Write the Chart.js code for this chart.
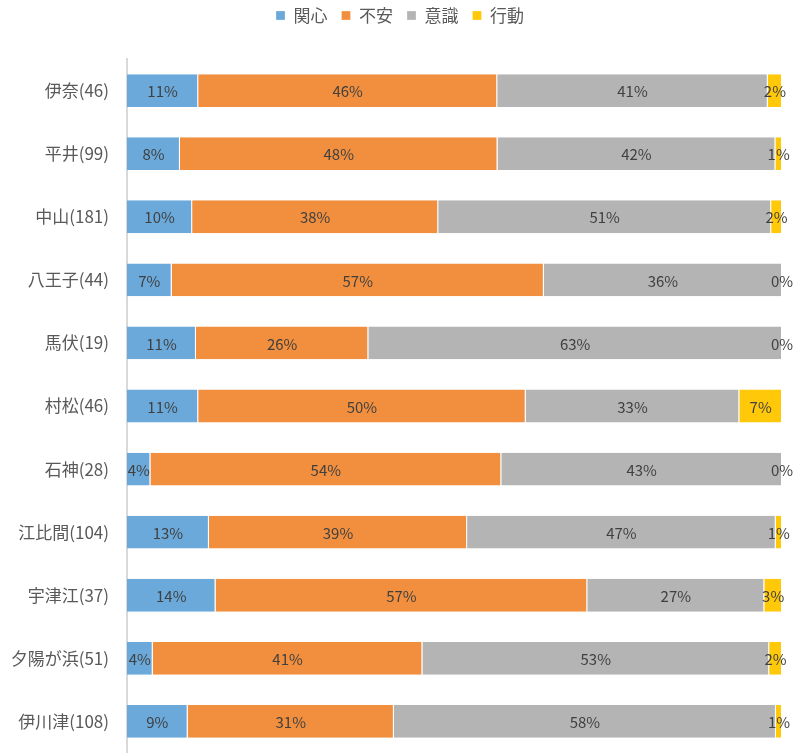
<!DOCTYPE html>
<html>
<head>
<meta charset="utf-8">
<script src="https://cdn.jsdelivr.net/npm/chart.js@4"></script>
<style>
  html, body { margin: 0; padding: 0; background: #fff; overflow: hidden; }
  canvas { display: block; }
</style>
</head>
<body>
<canvas id="chart" width="795" height="753"></canvas>
<script>
// 地区ごとの回答数（人数）
const areas = ['伊奈', '平井', '中山', '八王子', '馬伏', '村松', '石神', '江比間', '宇津江', '夕陽が浜', '伊川津'];
const sizes = [46, 99, 181, 44, 19, 46, 28, 104, 37, 51, 108];

const interest = [5, 8, 18, 3, 2, 5, 1, 13, 5, 2, 10];   // 関心
const anxiety  = [21, 48, 68, 25, 5, 23, 15, 41, 21, 21, 34]; // 不安
const aware    = [19, 42, 92, 16, 12, 15, 12, 49, 10, 27, 63]; // 意識
const action   = [1, 1, 3, 0, 0, 3, 0, 1, 1, 1, 1];       // 行動

const seriesNames = ['関心', '不安', '意識', '行動'];
const seriesCounts = [interest, anxiety, aware, action];
const colors = ['#6AA9DA', '#F18F3E', '#B4B4B4', '#FFC90A'];

const FONT = "'Noto Sans CJK JP', 'Noto Sans', sans-serif";

const labels = areas.map((a, i) => `${a}(${sizes[i]})`);

const datasets = seriesNames.map((name, s) => ({
  label: name,
  data: seriesCounts[s].map((c, i) => c / sizes[i]),
  counts: seriesCounts[s],
  backgroundColor: colors[s],
  borderColor: '#ffffff',
  borderWidth: { right: 1 },
  borderSkipped: false,
  barPercentage: 0.52,
  categoryPercentage: 1
}));

// 各区間の中央に割合を書く
const segmentLabels = {
  id: 'segmentLabels',
  afterDatasetsDraw(chart) {
    const ctx = chart.ctx;
    ctx.save();
    ctx.font = `15px ${FONT}`;
    ctx.fillStyle = '#404040';
    ctx.textAlign = 'center';
    ctx.textBaseline = 'middle';
    chart.data.datasets.forEach((ds, d) => {
      chart.getDatasetMeta(d).data.forEach((bar, i) => {
        const pct = Math.round(ds.counts[i] / sizes[i] * 100);
        ctx.fillText(pct + '%', (bar.base + bar.x) / 2, bar.y + 1);
      });
    });
    ctx.restore();
  }
};

// 凡例の高さを固定し、位置を少しずらす
const legendTweak = {
  id: 'legendTweak',
  beforeInit(chart) {
    const legend = chart.legend;
    const fit = legend.fit;
    legend.fit = function () {
      fit.call(this);
      this.height = 59;
    };
    const draw = legend.draw;
    legend.draw = function () {
      chart.ctx.save();
      chart.ctx.translate(9, -7);
      draw.call(this);
      chart.ctx.restore();
    };
  }
};

new Chart(document.getElementById('chart'), {
  type: 'bar',
  data: { labels, datasets },
  options: {
    indexAxis: 'y',
    responsive: false,
    animation: false,
    layout: { padding: { left: 0, right: 13, top: 0, bottom: 0 } },
    plugins: {
      legend: {
        position: 'top',
        labels: {
          boxWidth: 9,
          boxHeight: 9,
          padding: 14,
          color: '#595959',
          font: { family: FONT, size: 17 }
        }
      },
      tooltip: { enabled: false }
    },
    scales: {
      x: {
        stacked: true,
        display: false,
        min: 0,
        max: 1
      },
      y: {
        stacked: true,
        grid: { display: false, drawTicks: false },
        border: { display: true, color: '#D9D9D9', width: 2 },
        ticks: {
          padding: 18,
          color: '#595959',
          font: { family: FONT, size: 17 }
        },
        afterFit(scale) {
          scale.width = 127;
          scale.paddingTop = 0;
          scale.paddingBottom = 0;
        }
      }
    }
  },
  plugins: [segmentLabels, legendTweak]
});
</script>
</body>
</html>
